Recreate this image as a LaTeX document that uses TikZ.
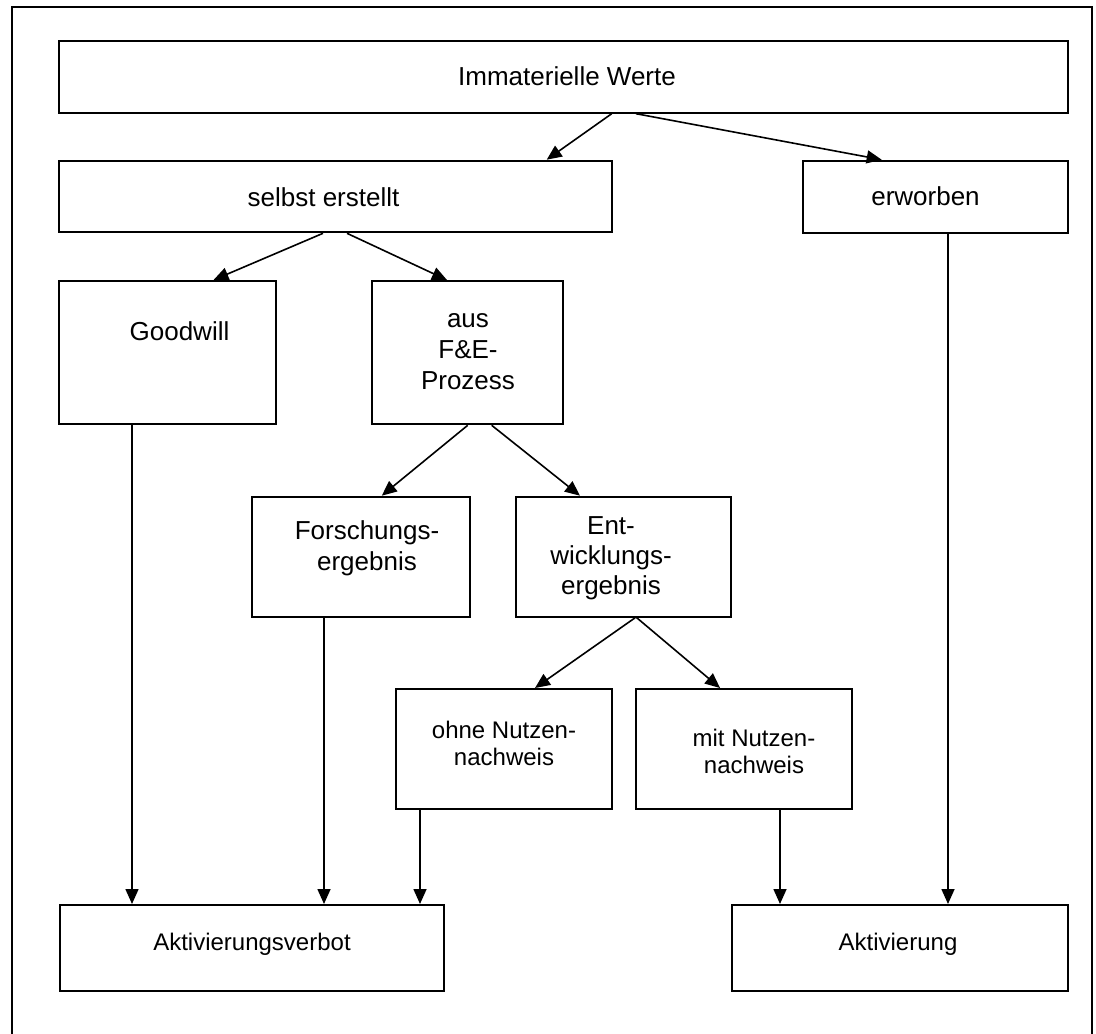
\documentclass[tikz,border=0pt]{standalone}
\usepackage{fontspec}
\setmainfont{Liberation Sans}
\usetikzlibrary{arrows.meta}
\newcommand\diabox[5]{\node[box, minimum width={(#4)-(#2)}, minimum height={(#5)-(#3)}] (#1) at ({((#2)+(#4))/2},{((#3)+(#5))/2}) {};}
\begin{document}
\begin{tikzpicture}[x=1pt,y=-1pt,
  box/.style={draw, line width=2pt, rectangle, inner sep=0pt},
  lbl/.style={inner sep=0pt, align=center, font=\fontsize{26}{31}\selectfont},
  lbls/.style={inner sep=0pt, align=center, font=\fontsize{24}{27}\selectfont},
  arr/.style={line width=1.6pt, -{Triangle[length=15pt,width=13pt]}}]
\useasboundingbox (0,0) rectangle (1096,1034);
\draw[line width=2.2pt] (11.7,1045) -- (11.7,6.7) -- (1091.7,6.7) -- (1091.7,1045);
% boxes
\diabox{imm}{59.3}{40.7}{1067.7}{112.7}
\diabox{selbst}{59.3}{160.7}{611.7}{232.3}
\diabox{erw}{803}{160.7}{1068}{232.5}
\diabox{good}{59.3}{281}{275.7}{424.3}
\diabox{aus}{371.7}{281}{563.3}{424.3}
\diabox{forsch}{251.7}{496.7}{470}{616.7}
\diabox{entw}{515.7}{496.7}{730.7}{616.7}
\diabox{ohne}{395.7}{689}{611.7}{809}
\diabox{mit}{635.7}{689}{852}{809}
\diabox{verbot}{60}{905}{444}{991}
\diabox{aktiv}{732}{905}{1068}{991}
% texts
\node[lbl] (timm) at (567,76.7) {Immaterielle Werte};
\node[lbl] (tselbst) at (323.5,197) {selbst erstellt};
\node[lbl] (terw) at (925.5,196) {erworben};
\node[lbl] (tgood) at (179.5,331) {Goodwill};
\node[lbl] (taus) at (468,352) {aus\\F\&E-\\Prozess};
\node[lbl] (tforsch) at (367,548) {Forschungs-\\ergebnis};
\node[lbl, font=\fontsize{26}{30}\selectfont] (tentw) at (611,558) {Ent-\\wicklungs-\\ergebnis};
\node[lbls] (tohne) at (504,743) {ohne Nutzen-\\nachweis};
\node[lbls] (tmit) at (754,751.5) {mit Nutzen-\\nachweis};
\node[lbls] (tverbot) at (252,944) {Aktivierungsverbot};
\node[lbls] (taktiv) at (898,944) {Aktivierung};
% connectors
\draw[arr] ([xshift=48.2pt]imm.south) -- ([xshift=211.2pt]selbst.north);
\draw[arr] ([xshift=72.5pt]imm.south) -- ([xshift=-53.8pt]erw.north);
\draw[arr] ([xshift=-12.5pt]selbst.south) -- ([xshift=46pt]good.north);
\draw[arr] ([xshift=11.5pt]selbst.south) -- ([xshift=-20.5pt]aus.north);
\draw[arr] ([xshift=0.2pt]aus.south) -- ([xshift=20.9pt]forsch.north);
\draw[arr] ([xshift=24.2pt]aus.south) -- ([xshift=-43.2pt]entw.north);
\draw[arr] ([xshift=12pt]entw.south) -- ([xshift=31.3pt]ohne.north);
\draw[arr] ([xshift=13.5pt]entw.south) -- ([xshift=-23.8pt]mit.north);
\draw[arr] ([xshift=-35.5pt]good.south) -- ([xshift=-120pt]verbot.north);
\draw[arr] ([xshift=-36.85pt]forsch.south) -- ([xshift=72pt]verbot.north);
\draw[arr] ([xshift=-83.7pt]ohne.south) -- ([xshift=168pt]verbot.north);
\draw[arr] ([xshift=36.15pt]mit.south) -- ([xshift=-120pt]aktiv.north);
\draw[arr] ([xshift=12.5pt]erw.south) -- ([xshift=48pt]aktiv.north);
\end{tikzpicture}
\end{document}
